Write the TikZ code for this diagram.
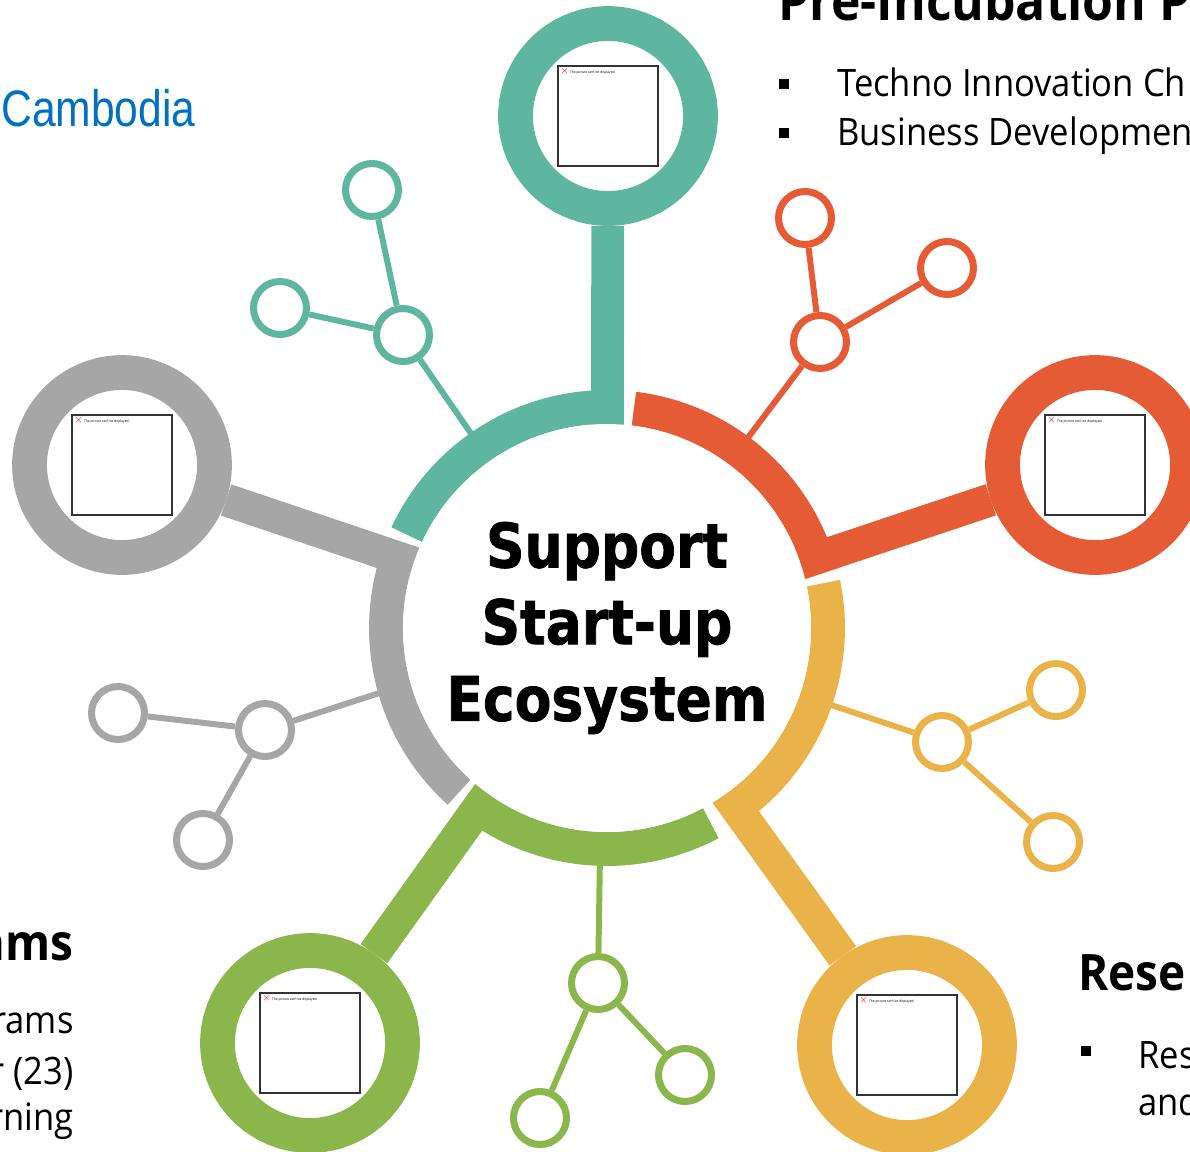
\documentclass[tikz,border=0pt]{standalone}
\usepackage{fontspec}
\setmainfont{Open Sans}[FakeStretch=0.915]
\newfontfamily\hubfont{DejaVu Sans}[FakeStretch=0.87,FakeBold=1.2]
\newfontfamily\cityfont{Liberation Sans}[FakeStretch=0.83]
\usetikzlibrary{positioning}

\definecolor{sTeal}{RGB}{95,182,160}
\definecolor{sOrange}{RGB}{228,91,53}
\definecolor{sYellow}{RGB}{234,179,74}
\definecolor{sGreen}{RGB}{139,182,75}
\definecolor{sGray}{RGB}{166,166,166}
\definecolor{sBlue}{RGB}{0,112,192}

\begin{document}
\begin{tikzpicture}[x=0.02cm,y=0.02cm,
	hub/.style={circle,fill=white,inner sep=0pt,minimum size=8.16cm,align=center,font=\hubfont\bfseries\fontsize{35pt}{43.6pt}\selectfont},
	hole/.style={circle,draw=#1,fill=white,line width=19.8pt,minimum size=3.7cm,inner sep=0pt},
	twig/.style={circle,draw=#1,fill=white,line width=4pt,minimum size=1.06cm,inner sep=0pt},
	stem/.style={draw=#1,line width=18.7pt},
	ring/.style={draw=#1,line width=19.3pt},
	link/.style={draw=#1,line width=3.4pt},
	picbox/.style={draw=black!80,line width=0.7pt,minimum size=2cm,inner sep=0pt},
	notice/.style={inner sep=1.2pt,font=\fontsize{2pt}{2.4pt}\selectfont},
	head/.style={anchor=base west,inner sep=0pt,font=\bfseries\fontsize{28.6pt}{34pt}\selectfont},
	body/.style={anchor=base west,inner sep=0pt,font=\fontsize{21.5pt}{28pt}\selectfont},
	dot/.style={fill=black,minimum size=0.2cm,inner sep=0pt}]

	\useasboundingbox (0,0) rectangle (1190,-1152);
	\coordinate (C) at (607,-628);

	% big circles
	\node[hole=sTeal] (tbig) at (608,-116) {};
	\node[hole=sOrange] (obig) at (1095,-465) {};
	\node[hole=sYellow] (ybig) at (907,-1045) {};
	\node[hole=sGreen] (gbig) at (310,-1043) {};
	\node[hole=sGray] (rbig) at (122,-465) {};

	\foreach \n in {tbig,obig,ybig,gbig,rbig}{
		\node[picbox] (\n-p) at (\n) {};
		\node[notice,anchor=north west] (\n-t) at (\n-p.north west) {\textcolor{red}{$\times$} The picture can't be displayed.};
	}

	% stems and ring
	\draw[stem=sTeal] (tbig) -- (C);
	\draw[ring=sTeal] (C) ++(90:221) arc[start angle=90,end angle=155,radius=221];
	\draw[stem=sOrange] (obig) -- (C);
	\draw[ring=sOrange] (C) ++(18.5:221) arc[start angle=18.5,end angle=83,radius=221];
	\draw[stem=sYellow] (ybig) -- (C);
	\draw[ring=sYellow] (C) ++(-54.4:221) arc[start angle=-54.4,end angle=11.7,radius=221];
	\draw[stem=sGreen] (gbig) -- (C);
	\draw[ring=sGreen] (C) ++(234.4:221) arc[start angle=234.4,end angle=298,radius=221];
	\draw[stem=sGray] (rbig) -- (C);
	\draw[ring=sGray] (C) ++(161.4:221) arc[start angle=161.4,end angle=228,radius=221];

	\node[hub] (hub) at (C) {Support\\Start-up\\Ecosystem};

	% small branches
	\node[twig=sTeal] (ta) at (372,-190) {};
	\node[twig=sTeal] (tb) at (280,-308) {};
	\node[twig=sTeal] (tc) at (403,-335) {};
	\path (C) ++(125:221) coordinate (tr);
	\draw[link=sTeal] (tc) -- (ta);
	\draw[link=sTeal] (tc) -- (tb);
	\draw[link=sTeal] (tc) -- (tr);

	\node[twig=sOrange] (oa) at (805,-218) {};
	\node[twig=sOrange] (ob) at (947,-268) {};
	\node[twig=sOrange] (oc) at (820,-342) {};
	\path (C) ++(53.5:221) coordinate (or);
	\draw[link=sOrange] (oc) -- (oa);
	\draw[link=sOrange] (oc) -- (ob);
	\draw[link=sOrange] (oc) -- (or);

	\node[twig=sYellow] (ya) at (1056,-690) {};
	\node[twig=sYellow] (yb) at (1053,-842) {};
	\node[twig=sYellow] (yc) at (942,-742) {};
	\path (C) ++(-19:221) coordinate (yr);
	\draw[link=sYellow] (yc) -- (ya);
	\draw[link=sYellow] (yc) -- (yb);
	\draw[link=sYellow] (yc) -- (yr);

	\node[twig=sGreen] (ga) at (540,-1118) {};
	\node[twig=sGreen] (gb) at (685,-1075) {};
	\node[twig=sGreen] (gc) at (598,-983) {};
	\path (C) ++(-91.8:221) coordinate (gr);
	\draw[link=sGreen] (gc) -- (ga);
	\draw[link=sGreen] (gc) -- (gb);
	\draw[link=sGreen] (gc) -- (gr);

	\node[twig=sGray] (ra) at (118,-713) {};
	\node[twig=sGray] (rb) at (203,-840) {};
	\node[twig=sGray] (rc) at (265,-730) {};
	\path (C) ++(195.8:221) coordinate (rr);
	\draw[link=sGray] (rc) -- (ra);
	\draw[link=sGray] (rc) -- (rb);
	\draw[link=sGray] (rc) -- (rr);

	% texts round the edge
	\node[anchor=base west,inner sep=0pt,text=sBlue,font=\cityfont\fontsize{29.2pt}{35pt}\selectfont] (city) at (1,-127) {Cambodia};

	\node[head,font=\bfseries\fontsize{31pt}{36pt}\selectfont] (pretitle) at (778,-21) {Pre-Incubation P};
	\node[dot] (pd1) at (784,-84) {};
	\node[body] (pb1) at (837,-97) {Techno Innovation Ch};
	\node[dot] (pd2) at (784,-133) {};
	\node[body] (pb2) at (837,-146) {Business Developmen};

	\node[head,anchor=base east] (progtitle) at (74,-960) {ams};
	\node[body,anchor=base east] (pg1) at (74,-1033) {rams};
	\node[body,anchor=base east] (pg2) at (74,-1084) {r (23)};
	\node[body,anchor=base east] (pg3) at (74,-1130) {rning};

	\node[head] (restitle) at (1078,-990) {Rese};
	\node[dot] (rd1) at (1086,-1051) {};
	\node[body] (rs1) at (1138,-1068) {Res};
	\node[body] (rs2) at (1138,-1115) {and};
\end{tikzpicture}
\end{document}
